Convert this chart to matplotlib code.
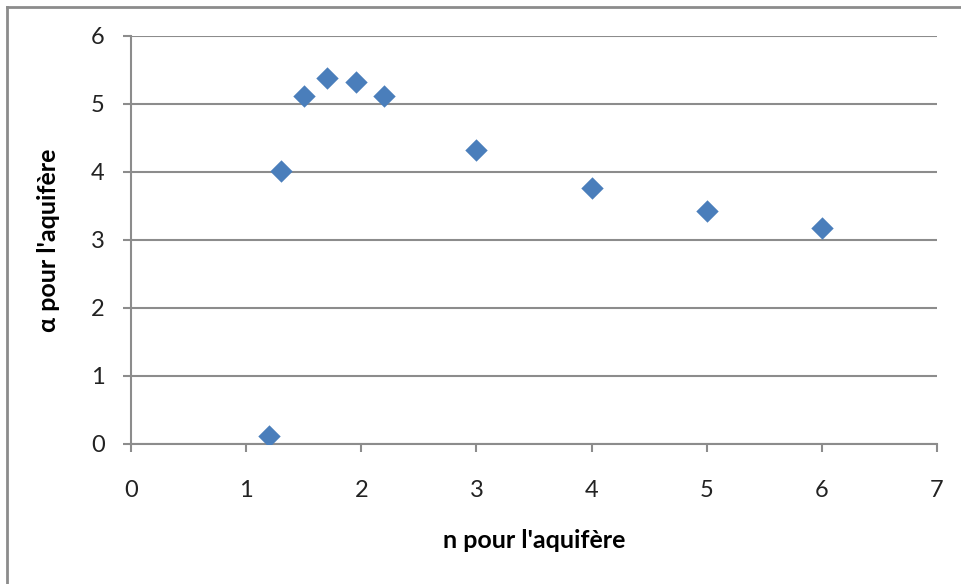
import matplotlib.pyplot as plt
from matplotlib.lines import Line2D

# Data
n_values = [1.2, 1.3, 1.5, 1.7, 1.95, 2.2, 3, 4, 5, 6]
alpha_values = [0.12, 4.02, 5.12, 5.38, 5.32, 5.12, 4.32, 3.77, 3.42, 3.17]
x_ticks = [0, 1, 2, 3, 4, 5, 6, 7]
y_ticks = [0, 1, 2, 3, 4, 5, 6]

plt.rcParams['font.family'] = ['Lato', 'DejaVu Sans']
grey = '#8c8c8c'

fig = plt.figure(figsize=(9.62, 5.84), dpi=100)
ax = fig.add_axes([131/962, 1-444/584, (937-131)/962, (444-36)/584])

ax.scatter(n_values, alpha_values, marker='D', s=130, color='#4a7ebb', zorder=3, linewidths=0)

ax.set_xlim(0, 7)
ax.set_ylim(0, 6)
ax.set_xticks(x_ticks)
ax.set_yticks(y_ticks)
ax.grid(axis='y', color=grey, linewidth=1.5)
ax.set_axisbelow(True)

for side in ['top', 'right']:
    ax.spines[side].set_visible(False)
for side in ['left', 'bottom']:
    ax.spines[side].set_color(grey)
    ax.spines[side].set_linewidth(1.5)
ax.tick_params(colors=grey, labelcolor='#222222', labelsize=17, width=1.5, length=6)
ax.tick_params(axis='x', pad=20)
ax.tick_params(axis='y', pad=13)

ax.set_xlabel("n pour l'aquifère", fontsize=18, fontweight='bold', labelpad=20)
ax.set_ylabel("α pour l'aquifère", fontsize=18, fontweight='bold', labelpad=22)

# outer chart border (top and left visible)
fig.add_artist(Line2D([7/962, 7/962], [0, 1-7/584], color=grey, linewidth=2, transform=fig.transFigure))
fig.add_artist(Line2D([7/962, 1], [1-7/584, 1-7/584], color=grey, linewidth=2, transform=fig.transFigure))

fig.savefig('out.png', dpi=100)
